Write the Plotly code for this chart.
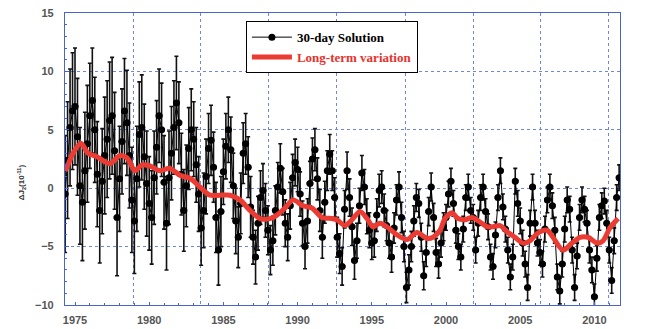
import plotly.graph_objects as go

# ---------------- data ----------------
# 30-day solutions: six readings per year (bi-monthly), first row starts at 1974 + 4/12
sol_years = list(range(1974, 2012))
sol_start_month = {1974: 4}
sol_values = [
    [-0.5, 2.4, 5.2, 6.6],                      # 1974
    [7.0, 4.4, 0.2, -1.2, 1.5, 3.8],            # 1975
    [6.2, 7.5, 5.0, 1.2, -1.9, 0.6],            # 1976
    [2.8, 4.2, 5.8, 6.2, 3.2, -2.5],            # 1977
    [0.8, 4.0, 6.6, 5.6, 2.8, -1.0],            # 1978
    [-2.8, 0.8, 4.6, 5.2, 2.7, 0.4],            # 1979
    [-1.3, -2.5, 0.9, 3.5, 6.2, 5.0],           # 1980
    [0.5, -3.0, 0.9, 3.0, 5.2, 7.3],            # 1981
    [5.6, 1.2, -1.9, 0.2, 3.4, 5.0],            # 1982
    [4.2, 2.0, -0.5, -3.4, -1.9, 1.0],          # 1983
    [3.4, 4.1, 1.8, -2.5, -5.3, -2.0],          # 1984
    [1.4, 3.6, 5.0, 3.3, 0.2, -2.8],            # 1985
    [-4.2, -1.3, 3.0, 3.8, 1.8, -1.6],          # 1986
    [-4.2, -5.9, -3.0, -0.8, -0.2, -1.9],       # 1987
    [-3.6, -5.3, -4.5, -1.9, 0.1, 1.7],         # 1988
    [-0.3, -3.0, -4.2, -1.5, 0.9, 2.2],         # 1989
    [1.6, -0.5, -3.0, -5.0, -2.8, 0.4],         # 1990
    [2.5, 3.3, 0.8, -1.9, -4.2, -1.2],          # 1991
    [1.5, 2.9, 1.5, -0.8, -4.2, -5.6],          # 1992
    [-6.7, -1.8, 1.5, -0.8, -3.3, -6.2],        # 1993
    [-4.5, -1.5, 1.3, 0.1, -2.4, -3.6],         # 1994
    [-4.7, -4.5, -2.3, -0.2, 0.1, -1.9],        # 1995
    [-3.2, -4.7, -5.9, -3.4, -1.0, 0.1],        # 1996
    [-2.5, -5.0, -8.5, -7.0, -5.0, -2.8],       # 1997
    [-0.8, -1.3, -4.2, -7.5, -5.5, -2.0],       # 1998
    [0.1, -2.5, -5.5, -6.5, -4.7, -3.3],        # 1999
    [-2.5, -0.5, 0.6, -1.3, -3.6, -5.0],        # 2000
    [-5.9, -3.5, -0.8, 0.1, -1.9, -2.5],        # 2001
    [-5.3, -3.0, -0.8, 0.1, -2.0, -3.3],        # 2002
    [-5.9, -6.7, -4.0, -0.8, 1.5, -1.6],        # 2003
    [-3.5, -5.3, -7.6, -5.9, 0.6, -1.3],        # 2004
    [-2.8, -4.7, -6.5, -8.5, -3.0, 0.1],        # 2005
    [-3.0, -4.7, -5.5, -6.5, -3.5, -1.0],       # 2006
    [0.1, -1.5, -3.6, -7.6, -8.8, -6.5],        # 2007
    [-3.5, -1.0, -1.8, -5.3, -8.5, -5.8],       # 2008
    [-2.5, -1.0, -1.8, -3.0, -5.3, -7.0],       # 2009
    [-9.3, -6.0, -2.5, -1.5, -1.1, -3.0],       # 2010
    [-5.3, -7.9, -4.5, -0.8, 0.9],              # 2011
]
# typical error bar half-length per year
sol_errors = [5.0, 5.0, 4.5, 5.0, 4.5, 4.5, 4.0, 4.0, 3.5, 3.2,
              3.0, 2.8, 2.6, 2.3, 2.1, 2.0, 1.9, 1.8, 1.7, 1.6,
              1.5, 1.4, 1.3, 1.3, 1.2, 1.2, 1.1, 1.1, 1.1, 1.1,
              1.1, 1.1, 1.1, 1.1, 1.1, 1.1, 1.1, 1.1]

# long-term variation
lt_years = [1974.33, 1974.46, 1974.87, 1975.40, 1975.88, 1976.48, 1977.36, 1978.03, 1978.50,
            1979.04, 1979.51, 1980.05, 1980.73, 1981.40, 1982.08, 1982.75, 1983.42, 1984.10,
            1984.77, 1985.44, 1986.12, 1986.79, 1987.47, 1988.14, 1988.61, 1989.15, 1989.69,
            1990.36, 1990.97, 1991.64, 1992.32, 1992.65, 1993.19, 1993.67, 1994.20, 1994.68,
            1995.08, 1995.55, 1996.02, 1996.70, 1997.37, 1998.05, 1998.72, 1999.12, 1999.60,
            1999.93, 2000.40, 2000.81, 2001.28, 2001.75, 2002.29, 2002.76, 2003.17, 2003.64,
            2004.18, 2004.65, 2005.19, 2005.66, 2006.13, 2006.81, 2007.21, 2007.88, 2008.49,
            2009.03, 2009.57, 2010.18, 2010.58, 2011.05, 2011.59]
lt_values = [1.5, 1.8, 3.0, 3.85, 3.0, 2.7, 2.1, 2.8, 2.6,
             1.5, 2.0, 1.9, 1.5, 1.7, 1.1, 0.85, 0.1, -0.6,
             -0.6, -0.6, -1.0, -1.9, -2.6, -2.6, -2.3, -1.7, -1.0,
             -1.5, -1.7, -2.5, -2.6, -2.7, -3.2, -2.7, -2.0, -2.6,
             -3.3, -3.0, -3.3, -4.0, -4.4, -3.8, -4.3, -4.2, -3.6,
             -2.6, -2.1, -2.6, -2.7, -2.5, -2.9, -3.3, -3.3, -3.2,
             -3.8, -4.2, -4.7, -4.5, -3.9, -3.6, -4.2, -5.3, -4.7,
             -4.2, -4.2, -4.7, -4.5, -3.4, -2.6]

x_tick_years = [1975, 1980, 1985, 1990, 1995, 2000, 2005, 2010]
x_grid_years = [1978.91, 1983.49, 1988.07, 1992.65, 1997.24, 2001.82, 2006.40, 2010.92]
y_ticks = [-10, -5, 0, 5, 10, 15]

# ---------------- build table ----------------
xs, ys, es = [], [], []
for yr, row, err in zip(sol_years, sol_values, sol_errors):
    m0 = sol_start_month.get(yr, 0)
    for i, v in enumerate(row):
        xs.append(yr + (m0 + 2 * i) / 12.0)
        ys.append(v)
        es.append(err)

BLUE = "#4a64c8"
GRID = "#6f86dc"

fig = go.Figure()
fig.add_trace(go.Scatter(
    x=xs, y=ys, mode="lines+markers",
    name="<b>30-day Solution</b>",
    line=dict(color="black", width=1),
    marker=dict(color="black", size=7, symbol="circle"),
    error_y=dict(type="data", array=es, visible=True, color="#111111",
                 thickness=1.6, width=2),
    error_x=dict(type="constant", value=0.22, visible=True, color="black",
                 thickness=3, width=0),
))
fig.add_trace(go.Scatter(
    x=lt_years, y=lt_values, mode="lines",
    name="<b><span style='color:#e8322b'>Long-term variation</span></b>",
    line=dict(color="#ec3b33", width=5, shape="spline", smoothing=0.8),
))
# invisible trace to activate the grid axis
fig.add_trace(go.Scatter(x=[x_grid_years[0]], y=[0], xaxis="x2", mode="markers",
                         marker=dict(opacity=0), showlegend=False, hoverinfo="skip"))

xr = [1974.326, 2011.725]
tick_font = dict(family="Liberation Sans", size=11, color="#555555", weight="bold")
fig.update_layout(
    width=648, height=329,
    margin=dict(l=65, r=28, t=13, b=24, autoexpand=False),
    paper_bgcolor="white", plot_bgcolor="white",
    showlegend=True,
    legend=dict(x=0.326, y=0.972, xanchor="left", yanchor="top",
                bgcolor="white", bordercolor="black", borderwidth=1,
                font=dict(family="Liberation Serif", size=13, color="black"),
                tracegroupgap=0, itemwidth=40),
    xaxis=dict(range=xr, tickvals=x_tick_years, ticktext=[str(v) for v in x_tick_years],
               showgrid=False, zeroline=False, showline=True, linecolor=BLUE, linewidth=1.2,
               mirror=True, ticks="inside", ticklen=3, tickcolor=BLUE, automargin=False,
               minor=dict(ticks="inside", ticklen=2, tickcolor=BLUE, dtick=1),
               tickfont=tick_font, ticklabelstandoff=5),
    xaxis2=dict(range=xr, overlaying="x", tickvals=x_grid_years, showticklabels=False,
                showgrid=True, gridcolor=GRID, griddash="dot", gridwidth=1, automargin=False,
                zeroline=False, showline=False, ticks=""),
    yaxis=dict(range=[-10, 15], tickvals=y_ticks, showgrid=True, gridcolor=GRID,
               griddash="dot", gridwidth=1, zeroline=False, showline=True,
               linecolor=BLUE, linewidth=1.2, mirror=True, ticks="inside", ticklen=4,
               tickcolor=BLUE, automargin=False,
               minor=dict(ticks="inside", ticklen=2, tickcolor=BLUE, dtick=1),
               tickfont=tick_font, ticklabelstandoff=8),
    annotations=[
        dict(text="<b>ΔJ<sub>2</sub>(10<sup>-11</sup>)</b>", textangle=-90, xref="paper",
             yref="paper", x=-0.093, y=0.42, showarrow=False,
             font=dict(family="Liberation Sans", size=8, color="#333333")),
        dict(text="Year", xref="paper", yref="paper", x=0.505, y=-0.075,
             yanchor="top", showarrow=False,
             font=dict(family="Liberation Serif", size=10, color="#444444")),
    ],
)

fig.write_html("out.html", config={"displayModeBar": False},
               post_script="document.body.style.margin='0';document.body.style.overflow='hidden';")
